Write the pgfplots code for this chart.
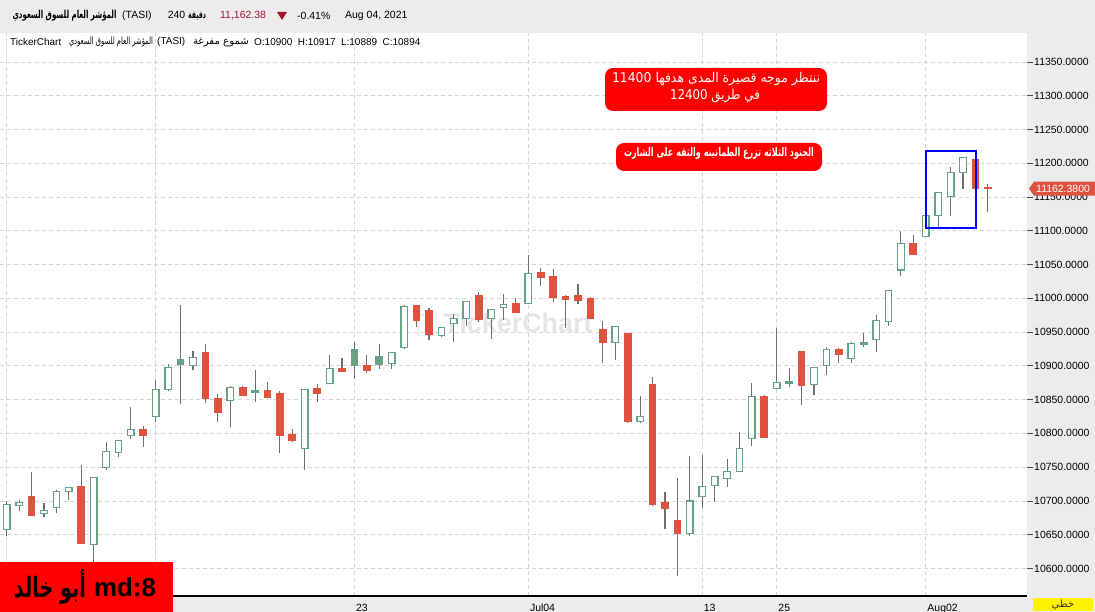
\documentclass[border=0pt]{standalone}
\usepackage{fontspec}
\setmainfont{Liberation Sans}
\newfontfamily\arabicfont[Script=Arabic]{DejaVu Sans}
\usepackage{pgfplots}
\usepackage{pgfplotstable}
\pgfplotsset{compat=1.18}
\TeXXeTstate=1
\definecolor{cgreen}{RGB}{102,163,130}
\definecolor{cred}{RGB}{224,82,64}
\definecolor{wickc}{RGB}{112,112,112}
\definecolor{panel}{RGB}{236,236,236}
\definecolor{gridc}{RGB}{214,214,214}
\definecolor{hdrred}{RGB}{165,20,45}
\tikzset{
  candle0/.style={draw=cgreen, fill=white, line width=1.3bp},
  candle1/.style={draw=cgreen, fill=cgreen, line width=1.3bp},
  candle2/.style={draw=cred, fill=cred, line width=1.3bp},
}
% i = bar index (240-minute bars), o h l c, t: 0 hollow green, 1 filled green, 2 filled red
\pgfplotstableread{
i o h l c t
0 10657.9 10700.3 10648.5 10694.9 0
1 10693.4 10701.3 10685.5 10697.9 0
2 10705.8 10742.8 10679.0 10679.1 2
3 10681.6 10696.4 10676.6 10686.0 0
4 10690.5 10716.1 10681.6 10714.2 0
5 10714.2 10720.1 10701.3 10720.1 0
6 10720.6 10753.2 10636.7 10636.7 2
7 10635.2 10734.9 10590.0 10734.9 0
8 10749.7 10787.2 10745.8 10773.4 0
9 10771.9 10789.7 10765.5 10789.7 0
10 10797.1 10839.0 10792.2 10806.0 0
11 10806.0 10810.9 10780.3 10796.6 2
12 10825.2 10879.0 10817.3 10865.2 0
13 10865.2 10902.7 10863.2 10897.8 0
14 10908.6 10990.1 10844.0 10901.7 1
15 10900.3 10922.0 10893.8 10912.6 0
16 10919.0 10932.3 10845.5 10851.4 2
17 10850.9 10858.3 10817.3 10830.7 2
18 10848.4 10869.6 10809.9 10868.2 0
19 10868.2 10870.1 10855.8 10855.8 2
20 10862.7 10893.8 10847.0 10860.8 1
21 10862.7 10876.1 10852.9 10852.9 2
22 10858.3 10862.7 10771.4 10796.6 2
23 10797.6 10806.0 10786.7 10789.2 2
24 10777.3 10865.2 10746.3 10865.2 0
25 10865.7 10873.1 10847.0 10858.8 2
26 10874.1 10916.0 10873.1 10896.3 0
27 10896.3 10911.6 10891.4 10891.4 2
28 10923.4 10935.3 10881.0 10900.2 1
29 10899.7 10916.0 10889.8 10892.8 2
30 10913.0 10932.3 10895.8 10901.7 1
31 10903.7 10919.9 10895.8 10919.9 0
32 10927.4 10990.0 10924.9 10988.1 0
33 10988.6 10990.0 10958.0 10966.9 2
34 10981.2 10985.6 10938.7 10946.1 2
35 10944.6 10957.0 10943.2 10957.0 0
36 10962.9 10976.7 10934.8 10970.3 0
37 10970.3 10995.5 10959.4 10995.5 0
38 11003.4 11009.8 10965.4 10969.3 2
39 10969.8 10983.6 10940.2 10983.6 0
40 10986.1 11006.3 10967.8 10991.0 0
41 10991.5 10999.9 10978.7 10978.7 2
42 10992.5 11064.1 10992.5 11036.9 0
43 11037.4 11044.3 11018.7 11030.5 2
44 11031.5 11042.9 10995.0 11000.9 2
45 11001.9 11004.9 10955.5 10998.9 2
46 11003.4 11021.1 10991.0 10997.5 2
47 10998.9 11001.4 10970.8 10970.8 2
48 10953.0 10966.4 10904.7 10934.3 2
49 10934.8 10958.5 10909.1 10958.5 0
50 10947.1 10947.1 10815.8 10817.3 2
51 10817.3 10855.3 10814.8 10825.2 0
52 10871.6 10883.9 10692.9 10695.4 2
53 10696.9 10713.1 10658.8 10688.5 2
54 10670.2 10734.4 10589.3 10651.5 2
55 10651.5 10766.5 10648.5 10699.8 0
56 10706.7 10768.0 10689.5 10721.5 0
57 10723.0 10736.3 10698.8 10736.3 0
58 10733.4 10762.0 10721.1 10743.8 0
59 10743.8 10802.0 10743.8 10777.8 0
60 10792.6 10874.6 10781.8 10854.8 0
61 10854.8 10856.3 10793.6 10793.6 2
62 10866.7 10955.5 10866.7 10875.5 0
63 10876.0 10896.8 10868.6 10873.6 1
64 10920.5 10921.9 10842.5 10870.6 2
65 10872.6 10897.8 10856.8 10897.8 0
66 10900.7 10927.4 10886.9 10924.4 0
67 10924.4 10926.4 10904.7 10917.0 2
68 10911.1 10935.8 10904.7 10933.3 0
69 10933.8 10949.1 10928.4 10931.3 1
70 10939.2 10975.3 10921.0 10967.4 0
71 10965.9 11011.8 10959.5 11011.8 0
72 11041.9 11099.6 11033.5 11081.4 0
73 11081.4 11093.2 11064.6 11064.6 2
74 11091.7 11122.8 11091.7 11122.8 0
75 11122.8 11156.9 11105.1 11156.9 0
76 11150.5 11194.4 11122.4 11186.5 0
77 11186.5 11208.7 11162.3 11208.7 0
78 11205.8 11205.8 11162.3 11162.3 2
79 11164.0 11169.2 11128.3 11162.4 2
}\candles

\begin{document}
\begin{tikzpicture}
\fill[white] (0,0) rectangle (1095bp,612bp);
\path[use as bounding box] (0,0) rectangle (1095bp,612bp);
\fill[panel] (0,579bp) rectangle (1095bp,612bp);
\fill[panel] (1027bp,0) rectangle (1095bp,579bp);
\fill[panel] (0,0) rectangle (1027bp,16bp);

\begin{axis}[
  at={(0,16bp)}, anchor=south west,
  scale only axis, width=1027bp, height=563bp,
  xmin=-0.54, xmax=82.15, ymin=10559.2, ymax=11392.9,
  axis line style={draw=none},
  clip=false,
  grid=major,
  major grid style={draw=gridc, dash pattern=on 4bp off 3bp, line width=0.8bp},
  ytick={10600,10650,...,11350},
  scaled y ticks=false,
  ytick pos=right, yticklabel pos=right,
  tick align=outside, major tick length=6bp,
  ytick style={draw=black!70, line width=0.8bp},
  yticklabel={\pgfmathprintnumber[fixed,fixed zerofill,precision=4,1000 sep={},assume math mode=true]{\tick}},
  yticklabel style={font=\fontsize{10.5}{12}\selectfont, anchor=west, inner sep=1bp},
  xtick={0,12,28,42,56,62,74},
  xticklabels={{},{},23,Jul04,13,25,Aug02},
  xtick style={draw=none},
  xticklabel style={font=\fontsize{10.5}{12}\selectfont, anchor=north west, inner sep=1.5bp},
]
% watermark
\node[text=black!10, font=\bfseries\fontsize{27}{30}\selectfont] at (axis cs:41.17,10964.2) {TickerChart};
\draw[black!8, line width=1.5bp, rounded corners=1bp] (axis cs:33.1,10975) rectangle (axis cs:33.9,10945);

\pgfplotsinvokeforeach{0,...,79}{
  \pgfplotstablegetelem{#1}{o}\of\candles \let\vo\pgfplotsretval
  \pgfplotstablegetelem{#1}{h}\of\candles \let\vh\pgfplotsretval
  \pgfplotstablegetelem{#1}{l}\of\candles \let\vl\pgfplotsretval
  \pgfplotstablegetelem{#1}{c}\of\candles \let\vc\pgfplotsretval
  \pgfplotstablegetelem{#1}{t}\of\candles \let\vt\pgfplotsretval
  \pgfmathsetmacro\xa{#1-0.26}
  \pgfmathsetmacro\xb{#1+0.26}
  \edef\tmp{\noexpand\draw[wickc, line width=1.1bp] (axis cs:#1,\vl) -- (axis cs:#1,\vh);
    \noexpand\draw[candle\vt] (axis cs:\xa,\vo) rectangle (axis cs:\xb,\vc);}
  \tmp
}
% blue box around the three soldiers
\draw[blue, line width=2bp] (axis cs:74.0,11218.1) rectangle (axis cs:78.04,11104.6);
\end{axis}

% bottom axis line
\draw[black, line width=1.5bp] (0,16bp) -- (1027bp,16bp);

% price tag
\fill[cred] (1029bp,423.4bp) -- (1034bp,430.4bp) -- (1095bp,430.4bp) -- (1095bp,416.4bp) -- (1034bp,416.4bp) -- cycle;
\node[anchor=west, inner sep=0, text=white, font=\fontsize{10.5}{12}\selectfont] at (1036bp,423.4bp) {11162.3800};

% yellow box
\fill[yellow] (1033bp,1bp) rectangle (1093bp,14bp);
\node[inner sep=0, text=black!80, font=\arabicfont\fontsize{10}{12}\selectfont] at (1063bp,7.5bp) {\beginR خطي\endR};

% annotation boxes
\fill[red, rounded corners=8bp] (605bp,501bp) rectangle (827bp,544bp);
\node[inner sep=0, text=white, font=\arabicfont\fontsize{13.5}{15}\selectfont] at (716bp,533bp) {\resizebox{208bp}{\height}{\beginR ننتظر موجه قصيرة المدى هدفها 11400\endR}};
\node[inner sep=0, text=white, font=\arabicfont\fontsize{13.5}{15}\selectfont] at (715bp,516bp) {\resizebox{90bp}{\height}{\beginR في طريق 12400\endR}};

\fill[red, rounded corners=8bp] (616bp,441bp) rectangle (822bp,469bp);
\node[inner sep=0, text=white, font=\arabicfont\bfseries\fontsize{12}{14}\selectfont] at (719bp,459bp) {\resizebox{190bp}{\height}{\beginR الجنود الثلاثه تزرع الطمانينه والثقه على الشارت\endR}};

% bottom-left label
\fill[red] (0,0) rectangle (172.7bp,50bp);
\node[inner sep=0, text=black, font=\arabicfont\bfseries\fontsize{28}{32}\selectfont] at (50bp,25bp) {\resizebox{72bp}{\height}{\beginR أبو خالد\endR}};
\node[inner sep=0, text=black, font=\bfseries\fontsize{26}{30}\selectfont] at (125bp,25bp) {md:8};

% header line 1
\node[inner sep=0, font=\arabicfont\bfseries\fontsize{11}{13}\selectfont] at (64.5bp,596bp) {\resizebox{104bp}{\height}{\beginR المؤشر العام للسوق السعودي\endR}};
\node[anchor=west, inner sep=0, font=\fontsize{10.5}{12}\selectfont] at (122bp,596bp) {(TASI)};
\node[inner sep=0, font=\fontsize{10.5}{12}\selectfont] at (187bp,596bp) {240 {\arabicfont\bfseries\fontsize{10}{12}\selectfont\resizebox{18bp}{\height}{\beginR دقيقة\endR}}};
\node[anchor=west, inner sep=0, text=hdrred, font=\fontsize{10.5}{12}\selectfont] at (220bp,596bp) {11,162.38};
\fill[hdrred] (277bp,600bp) -- (287bp,600bp) -- (282bp,592bp) -- cycle;
\node[anchor=west, inner sep=0, font=\fontsize{10.5}{12}\selectfont] at (297bp,596bp) {-0.41\%};
\node[anchor=west, inner sep=0, font=\fontsize{10.5}{12}\selectfont] at (345bp,596bp) {Aug 04, 2021};

% header line 2
\node[anchor=west, inner sep=0, font=\fontsize{10}{12}\selectfont] at (10bp,570bp) {TickerChart};
\node[inner sep=0, font=\arabicfont\fontsize{10}{12}\selectfont] at (111bp,570bp) {\resizebox{84bp}{\height}{\beginR المؤشر العام للسوق السعودي\endR}};
\node[anchor=west, inner sep=0, font=\fontsize{10}{12}\selectfont] at (157bp,570bp) {(TASI)};
\node[inner sep=0, font=\arabicfont\fontsize{10}{12}\selectfont] at (221bp,570bp) {\resizebox{56bp}{\height}{\beginR شموع مفرغة\endR}};
\node[anchor=west, inner sep=0, font=\fontsize{10}{12}\selectfont] at (254bp,570bp) {O:10900\ \ H:10917\ \ L:10889\ \ C:10894};
\end{tikzpicture}
\end{document}
